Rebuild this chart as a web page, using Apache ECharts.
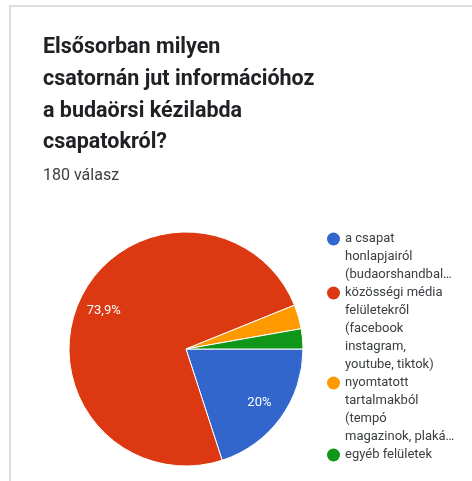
<!DOCTYPE html>
<html>
<head>
<meta charset="utf-8">
<script src="https://cdn.jsdelivr.net/npm/echarts@6/dist/echarts.min.js"></script>
<style>
  html, body { margin: 0; padding: 0; background: #ffffff; }
  #chart { width: 472px; height: 481px; }
</style>
</head>
<body>
<div id="chart"></div>
<script>
// Survey question and response count
const titleLines = ['Elsősorban milyen', 'csatornán jut információhoz', 'a budaörsi kézilabda', 'csapatokról?'];
const responseText = '180 válasz';

// Answer categories (legend lines per answer) and response counts
const categories = [
  ['a csapat', 'honlapjairól', '(budaorshandbal…'],
  ['közösségi média', 'felületekről', '(facebook', 'instagram,', 'youtube, tiktok)'],
  ['nyomtatott', 'tartalmakból', '(tempó', 'magazinok, plaká…'],
  ['egyéb felületek']
];
const counts = [36, 133, 6, 5];
const colors = ['#3366cc', '#dc3912', '#ff9900', '#109618'];

const total = counts.reduce((a, b) => a + b, 0);
const pieData = counts.map((v, i) => ({ name: categories[i].join(' '), value: v }));

function pctLabel(v) {
  const p = Math.round(v / total * 1000) / 10;
  if (p < 10) return '';
  return (Number.isInteger(p) ? String(p) : p.toFixed(1).replace('.', ',')) + '%';
}

const CX = 186, CY = 349, R = 117;

// Legend drawn as circles + multi-line text, icon aligned to first line
const legendGraphics = [];
const LINE_H = 18;
let lineIdx = 0;
categories.forEach((lines, i) => {
  const y0 = 239 + lineIdx * LINE_H;
  legendGraphics.push({
    type: 'circle',
    shape: { cx: 333.5, cy: y0, r: 6.5 },
    style: { fill: colors[i] },
    silent: true
  });
  legendGraphics.push({
    type: 'text',
    x: 345,
    y: y0 - LINE_H / 2,
    style: {
      text: lines.join('\n'),
      fill: '#3c4043',
      font: '13px Roboto',
      lineHeight: LINE_H,
      verticalAlign: 'top',
      align: 'left'
    },
    silent: true
  });
  lineIdx += lines.length;
});

const chart = echarts.init(document.getElementById('chart'), null, { renderer: 'canvas' });
chart.setOption({
  animation: false,
  backgroundColor: '#ffffff',
  title: {
    text: titleLines.join('\n'),
    subtext: responseText,
    left: 33,
    top: 32,
    padding: [0, 10],
    itemGap: 7,
    textStyle: {
      fontFamily: 'Roboto',
      fontWeight: 'bold',
      fontSize: 21.5,
      lineHeight: 31.7,
      color: '#202124'
    },
    subtextStyle: {
      fontFamily: 'Roboto',
      fontSize: 16,
      lineHeight: 20,
      color: '#3c4043'
    }
  },
  graphic: [
    {
      type: 'rect',
      shape: { x: 10, y: 6, width: 520, height: 520 },
      style: { fill: 'none', stroke: '#dcdcdc', lineWidth: 2 },
      silent: true,
      z: -10
    }
  ].concat(legendGraphics),
  series: [
    {
      type: 'pie',
      center: [CX, CY],
      radius: [0, R],
      startAngle: 0,
      clockwise: true,
      data: pieData,
      color: colors,
      itemStyle: { borderColor: '#ffffff', borderWidth: 1 },
      label: { show: false },
      labelLine: { show: false },
      emphasis: { disabled: true }
    },
    {
      // transparent ring carrying the percentage labels at ~3/4 radius
      type: 'pie',
      center: [CX, CY],
      radius: [R / 2, R],
      startAngle: 0,
      clockwise: true,
      silent: true,
      data: pieData,
      itemStyle: { color: 'rgba(0,0,0,0)' },
      label: {
        show: true,
        position: 'inside',
        formatter: p => pctLabel(p.value),
        color: '#ffffff',
        fontFamily: 'Roboto',
        fontSize: 13
      },
      labelLine: { show: false },
      emphasis: { disabled: true }
    }
  ]
});
</script>
</body>
</html>
